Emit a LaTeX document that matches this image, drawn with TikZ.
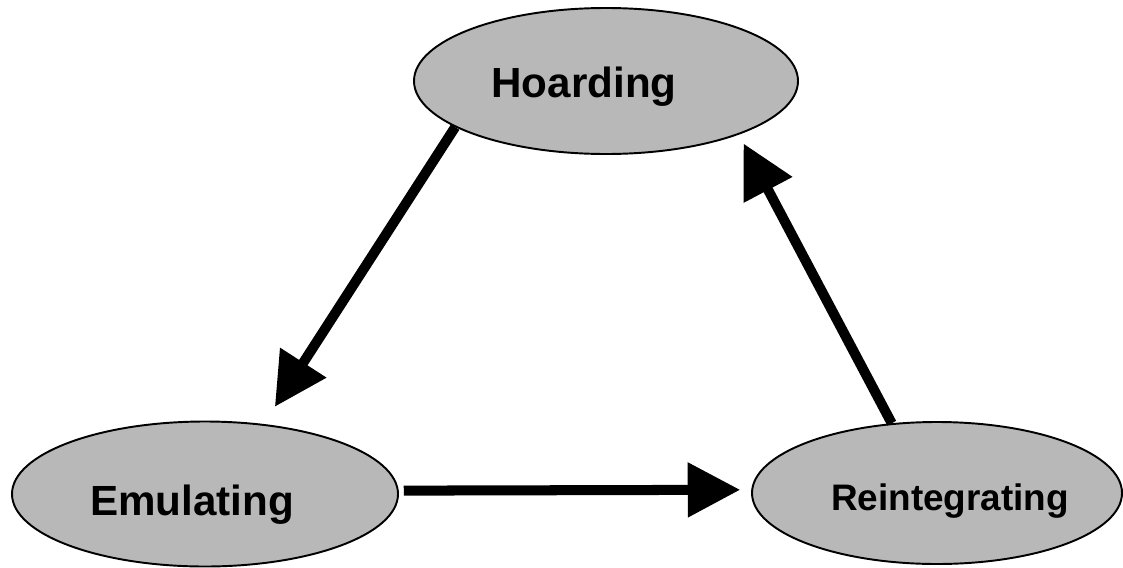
\documentclass[tikz,border=0pt]{standalone}
\usepackage{fontspec}
\setmainfont{Liberation Sans}
\usetikzlibrary{positioning,shapes.geometric,arrows.meta}
\definecolor{stategray}{RGB}{184,184,184}

\begin{document}
\begin{tikzpicture}[>={Triangle[length=1.05cm,width=1.05cm]}]
  % definition of the basic styles.
  \tikzset{
    state/.style={ellipse, draw=black, line width=1.1pt, fill=stategray,
      inner sep=0pt, minimum width=7.7cm, minimum height=2.92cm},
    statetext/.style={font=\bfseries\fontsize{24}{28}\selectfont, inner sep=0pt},
    smalltext/.style={font=\bfseries\fontsize{21}{25}\selectfont, inner sep=0pt},
    flow/.style={->, line width=5.7pt}
  }
  % The frame of the picture
  \useasboundingbox (0,0) rectangle (22.46,-11.34);

  % The three states
  \node[state, minimum width=7.68cm] (hoard) at (12.12,-1.62) {};
  \node[state, minimum width=7.72cm, minimum height=2.9cm] (emul) at (4.10,-9.88) {};
  \node[state, minimum width=7.4cm, minimum height=2.84cm] (reint) at (18.74,-9.86) {};

  % Their names
  \node[statetext, xshift=-0.44cm, yshift=-0.12cm] (hoardtext) at (hoard.center) {Hoarding};
  \node[statetext, xshift=-0.26cm, yshift=-0.22cm] (emultext) at (emul.center) {Emulating};
  \node[smalltext, xshift=0.26cm, yshift=-0.16cm] (reinttext) at (reint.center) {Reintegrating};

  % The cycle of arrows
  \draw[flow, shorten >=0.41cm] (hoard.197) -- (emul.50);
  \draw[flow, shorten <=0.1cm, shorten >=0.22cm] (emul.1) -- (reint.179);
  \draw[flow, shorten >=0.2cm] (reint.123) -- (hoard.338);
\end{tikzpicture}
\end{document}
